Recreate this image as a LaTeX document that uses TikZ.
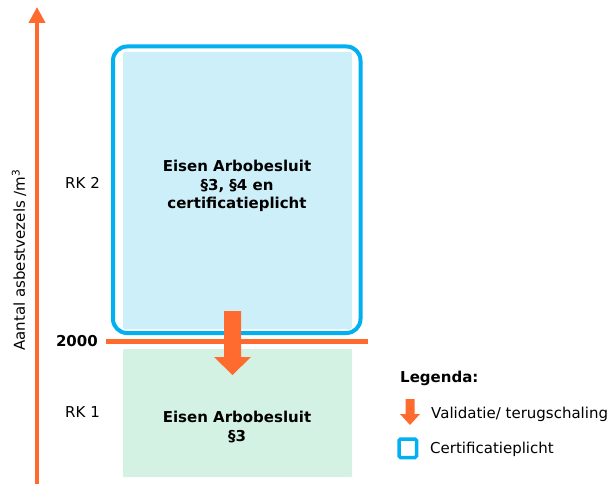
\documentclass[tikz,border=0pt]{standalone}
\usepackage{fontspec}
\setmainfont{DejaVu Sans}
\usetikzlibrary{arrows.meta}
\definecolor{orng}{RGB}{255,106,46}
\definecolor{cblue}{RGB}{0,176,240}
\definecolor{lblue}{RGB}{204,239,249}
\definecolor{lgreen}{RGB}{211,242,228}
\tikzset{
  lbl/.style={font=\fontsize{15}{18}\selectfont, text=black, inner sep=0pt},
  boldlbl/.style={font=\fontsize{15}{18}\selectfont\bfseries, text=black, inner sep=0pt},
  boxtext/.style={font=\fontsize{15}{18.5}\selectfont\bfseries, align=center, text=black},
}
\begin{document}
\begin{tikzpicture}[x=1pt,y=-1pt]
\useasboundingbox (0,0) rectangle (611,484);
% axis
\coordinate (axb) at (37,484);
\coordinate (axt) at (37,7);
\draw[orng, line width=4.5pt, -{Triangle[width=16pt,length=16pt]}] (axb) -- (axt);
\node[lbl, rotate=90] (axlabel) at (19,260) {Aantal asbestvezels /m\textsuperscript{3}};
% blue box
\node[fill=lblue, minimum width=229pt, minimum height=277pt, inner sep=0pt, rounded corners=2pt] (blue) at (237.5,190.5) {};
\draw[cblue, line width=4pt, rounded corners=14pt] (113,46.5) rectangle (360.5,333) ;
\node[boxtext] (bluetxt) at (237,186) {Eisen Arbobesluit\\§3, §4 en\\certificatieplicht};
% green box
\node[fill=lgreen, minimum width=229pt, minimum height=128pt, inner sep=0pt, rounded corners=1pt] (green) at (237.5,413) {};
\node[boxtext] (greentxt) at (237,427) {Eisen Arbobesluit\\§3};
% threshold line
\coordinate (tl) at (106,341.5);
\coordinate (tr) at (368,341.5);
\draw[orng, line width=5pt] (tl) -- (tr);
\node[boldlbl, anchor=east] (y2000) at (98,341) {2000};
% labels
\node[lbl, anchor=east] (rk2) at (100,183) {RK 2};
\node[lbl, anchor=east] (rk1) at (100,412) {RK 1};
% big arrow
\fill[orng] (224,311) -- (241,311) -- (241,357) -- (251,357) -- (232.5,375) -- (214,357) -- (224,357) -- cycle;
% legend
\node[boldlbl, anchor=west] (leg) at (400,378) {Legenda:};
\fill[orng] (405.5,399) -- (414.5,399) -- (414.5,414) -- (420,414) -- (410,425) -- (400,414) -- (405.5,414) -- cycle;
\node[lbl, anchor=west] (legv) at (431,414) {Validatie/ terugschaling};
\draw[cblue, line width=3.5pt, rounded corners=1.5pt] (399,439) rectangle (416.5,457.5);
\node[lbl, anchor=west] (legc) at (430,449) {Certificatieplicht};
\end{tikzpicture}
\end{document}
